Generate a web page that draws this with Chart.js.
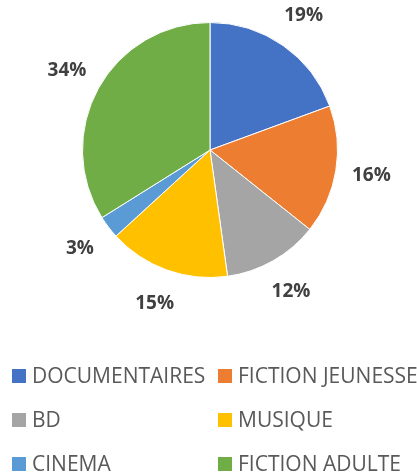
<!DOCTYPE html>
<html>
<head>
<meta charset="utf-8">
<script src="https://cdn.jsdelivr.net/npm/chart.js@4"></script>
<style>
  html, body { margin: 0; padding: 0; background: #fff; }
  #wrap { position: relative; width: 417px; height: 475px; }
</style>
</head>
<body>
<div id="wrap"><canvas id="pie" width="417" height="475"></canvas></div>
<script>
const labels = [
  'DOCUMENTAIRES',
  'FICTION JEUNESSE',
  'BD',
  'MUSIQUE',
  'CINEMA',
  'FICTION ADULTE',
];

// parts en pourcentage
const values = [19.4, 16.3, 12.1, 15.4, 2.9, 33.9];

const colors = ['#4472C4', '#ED7D31', '#A5A5A5', '#FFC000', '#5B9BD5', '#70AD47'];

// étiquettes % à l'extérieur des parts
const outsideLabels = {
  id: 'outsideLabels',
  afterDatasetsDraw(chart) {
    const ctx = chart.ctx;
    const data = chart.data.datasets[0].data;
    const total = data.reduce((a, b) => a + b, 0);
    ctx.save();
    ctx.font = 'bold 19px "Open Sans"';
    ctx.fillStyle = '#404040';
    ctx.textAlign = 'center';
    ctx.textBaseline = 'middle';
    chart.getDatasetMeta(0).data.forEach((arc, i) => {
      const mid = (arc.startAngle + arc.endAngle) / 2;
      const r = arc.outerRadius + 36;
      const x = arc.x + Math.cos(mid) * r;
      const y = arc.y + Math.sin(mid) * r;
      ctx.fillText(Math.round(data[i] / total * 100) + '%', x, y);
    });
    ctx.restore();
  },
};

// légende sur deux colonnes
const gridLegend = {
  id: 'gridLegend',
  afterDraw(chart) {
    const ctx = chart.ctx;
    ctx.save();
    ctx.font = '21px "Open Sans"';
    ctx.fillStyle = '#595959';
    ctx.textBaseline = 'middle';
    chart.data.labels.forEach((label, i) => {
      const col = i % 2;
      const row = Math.floor(i / 2);
      const x = col === 0 ? 12 : 218;
      const y = 376 + row * 44;
      ctx.fillStyle = colors[i];
      ctx.fillRect(x, y - 7, 14, 14);
      ctx.fillStyle = '#595959';
      ctx.fillText(label, x + 20, y + 1);
    });
    ctx.restore();
  },
};

new Chart(document.getElementById('pie'), {
  type: 'pie',
  data: {
    labels: labels,
    datasets: [
      {
        data: values,
        backgroundColor: colors,
        borderColor: '#ffffff',
        borderWidth: 1,
      },
    ],
  },
  options: {
    responsive: false,
    animation: false,
    layout: { padding: { left: 82, right: 79, top: 22, bottom: 197 } },
    plugins: {
      legend: { display: false },
      tooltip: { enabled: false },
    },
  },
  plugins: [outsideLabels, gridLegend],
});
</script>
</body>
</html>
